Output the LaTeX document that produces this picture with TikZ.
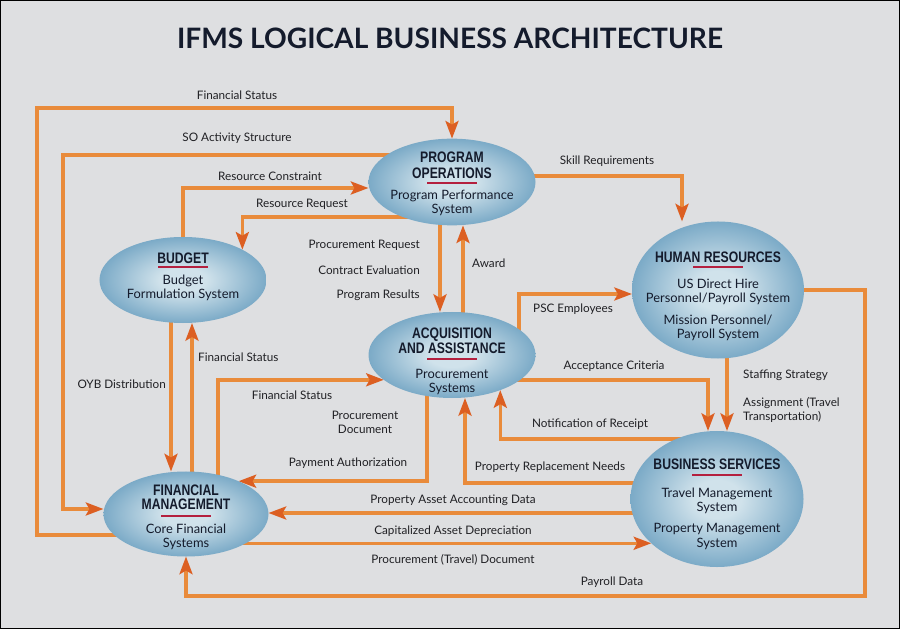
\documentclass[tikz,border=0pt]{standalone}
\usepackage{fontspec}
\setmainfont{Lato}
\newfontfamily\headfont[FakeStretch=0.8]{Liberation Sans}
\usetikzlibrary{arrows.meta,backgrounds,calc,shapes.geometric}

\definecolor{pagebg}{HTML}{DEDFE1}
\definecolor{flowline}{HTML}{E98B3B}
\definecolor{flowtip}{HTML}{DC5F22}
\definecolor{unitin}{HTML}{D0E2EB}
\definecolor{unitout}{HTML}{3E82AD}
\definecolor{unitrim}{HTML}{346F96}
\definecolor{unitink}{HTML}{141B2C}
\definecolor{barred}{HTML}{B4203F}
\definecolor{labelink}{HTML}{202024}

\pgfdeclareradialshading{unitglow}{\pgfpoint{0bp}{0bp}}{color(0bp)=(unitin); color(7bp)=(unitin); color(38bp)=(unitout); color(50bp)=(unitrim)}

\newcommand{\hd}{\headfont\bfseries\fontsize{13}{13}\selectfont}
\newcommand{\bd}{\normalfont\fontsize{11}{12}\selectfont}
\newcommand{\padtop}[1]{\rule{0pt}{#1}}
\newcommand{\padbot}[1]{\rule[-#1]{0pt}{#1}}

\tikzset{
  unit/.style={ellipse, shade, shading=unitglow, inner sep=-5mm, outer sep=0pt,
    align=center, text=unitink, font=\bd},
  underbar/.style={draw=barred, line width=1.6pt},
  lbl/.style={font=\fontsize{10}{12}\selectfont, text=labelink, inner sep=0pt},
  flow/.style={draw=flowline, line width=3pt,
    -{Stealth[length=15pt,width=11pt,inset=3pt,color=flowtip]}},
}

\begin{document}
\begin{tikzpicture}[x=0.03cm,y=-0.03cm]
  \useasboundingbox (0,0) rectangle (900,629);
  \node[font=\bfseries\fontsize{24}{28}\selectfont, text=unitink] (title) at (450,38) {IFMS LOGICAL BUSINESS ARCHITECTURE};

  \node[unit, minimum width=5.01cm, minimum height=2.6cm] (po) at (452,182)
    {\hd\padtop{12.7pt}PROGRAM\\[1pt]\hd OPERATIONS\\[6.3pt]\bd Program Performance\\\bd System};
  \node[unit, minimum width=5.01cm, minimum height=2.58cm] (bud) at (183,280)
    {\hd BUDGET\\[5.4pt]\bd Budget\\\bd\padbot{7.3pt}Formulation System};
  \node[unit, minimum width=5.01cm, minimum height=2.58cm] (aa) at (452,355)
    {\hd\padtop{19.5pt}ACQUISITION\\[1pt]\hd AND ASSISTANCE\\[8.8pt]\bd Procurement\\\bd Systems};
  \node[unit, minimum width=5.16cm, minimum height=4.11cm] (hr) at (718,290)
    {\hd\padtop{19.5pt}HUMAN RESOURCES\\[10.5pt]\bd US Direct Hire\\\bd Personnel/Payroll System\\[6.7pt]\bd Mission Personnel/\\\bd Payroll System};
  \node[unit, minimum width=5.19cm, minimum height=4.08cm] (bs) at (717,499)
    {\hd\padtop{17.8pt}BUSINESS SERVICES\\[11.4pt]\bd Travel Management\\\bd System\\[6.7pt]\bd Property Management\\\bd System};
  \node[unit, minimum width=4.95cm, minimum height=2.55cm] (fm) at (186,514)
    {\hd\padtop{14.4pt}FINANCIAL\\\hd MANAGEMENT\\[8.8pt]\bd Core Financial\\\bd Systems};

  \draw[underbar] ($(po)+(-25,1)$) -- ++(50,0);
  \draw[underbar] ($(bud)+(-25,-13)$) -- ++(50,0);
  \draw[underbar] ($(aa)+(-25,4)$) -- ++(50,0);
  \draw[underbar] ($(hr)+(-25,-23)$) -- ++(50,0);
  \draw[underbar] ($(bs)+(-25,-24)$) -- ++(50,0);
  \draw[underbar] ($(fm)+(-25,2)$) -- ++(50,0);

  \node[lbl] (fs1) at (237,95) {Financial Status};
  \node[lbl] (soa) at (237,138) {SO Activity Structure};
  \node[lbl] (rcon) at (270,176) {Resource Constraint};
  \node[lbl] (rreq) at (302,204) {Resource Request};
  \node[lbl, anchor=east] (preq) at (420,245) {Procurement Request};
  \node[lbl, anchor=east] (ceval) at (420,270) {Contract Evaluation};
  \node[lbl, anchor=east] (pres) at (420,295) {Program Results};
  \node[lbl, anchor=west] (award) at (472,263) {Award};
  \node[lbl] (skill) at (607,161) {Skill Requirements};
  \node[lbl, anchor=west] (psc) at (533,309) {PSC Employees};
  \node[lbl, anchor=east] (oyb) at (166,384) {OYB Distribution};
  \node[lbl, anchor=west] (fs2) at (198,357) {Financial Status};
  \node[lbl] (fs3) at (292,395) {Financial Status};
  \node[lbl, align=center] (pdoc) at (365,422) {Procurement\\Document};
  \node[lbl] (pay) at (348,463) {Payment Authorization};
  \node[lbl] (acc) at (614,366) {Acceptance Criteria};
  \node[lbl, anchor=west] (staff) at (743,375) {Staffing Strategy};
  \node[lbl, anchor=west, align=left] (assign) at (743,410) {Assignment (Travel\\Transportation)};
  \node[lbl] (notif) at (590,424) {Notification of Receipt};
  \node[lbl] (prn) at (550,467) {Property Replacement Needs};
  \node[lbl] (paad) at (453,500) {Property Asset Accounting Data};
  \node[lbl] (cad) at (453,531) {Capitalized Asset Depreciation};
  \node[lbl] (ptd) at (453,560) {Procurement (Travel) Document};
  \node[lbl] (payroll) at (612,582) {Payroll Data};

  \begin{scope}[on background layer]
    \fill[pagebg] (0,0) rectangle (900,629);
    \draw[flow] (fm.center |- 0,535) -| (37,108) -| (po.north);
    \draw[flow] (po.center |- 0,155) -| (63,509) -- (fm.west |- 0,509);
    \draw[flow] (bud.center) |- (po.west |- 0,188);
    \draw[flow] (po.center |- 0,217) -| (bud.27);
    \draw[flow] (po.center -| 440,0) -- (aa.north -| 440,0);
    \draw[flow] (aa.center -| 463,0) -- (po.south -| 463,0);
    \draw[flow] (po.center |- 0,176) -| (hr.north -| 682,0);
    \draw[flow] (aa.center -| 519,0) |- (hr.west |- 0,294);
    \draw[flow] (fm.center -| 218,0) |- (aa.200);
    \draw[flow] (bud.center -| 171,0) -- (fm.north -| 171,0);
    \draw[flow] (fm.center -| 192,0) -- (bud.south -| 192,0);
    \draw[flow] (aa.center -| 427,0) |- (fm.32);
    \draw[flow] (aa.center |- 0,380) -| (bs.north -| 708,0);
    \draw[flow] (hr.center -| 727,0) -- (bs.north -| 727,0);
    \draw[flow] (bs.center |- 0,439) -| (aa.-36);
    \draw[flow] (bs.center |- 0,483) -| (aa.south -| 465,0);
    \draw[flow] (bs.center |- 0,513) -- (fm.east |- 0,513);
    \draw[flow] (fm.center |- bs.214) -- (bs.214);
    \draw[flow] (hr.center) -| (865,596) -| (fm.south);
  \end{scope}
  \draw[black, line width=1.2pt] (0.7,0.7) rectangle (899.3,628.3);
\end{tikzpicture}
\end{document}
